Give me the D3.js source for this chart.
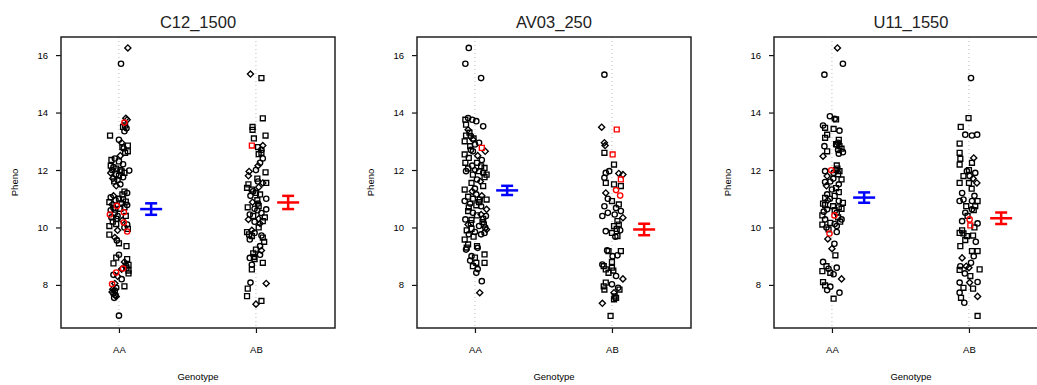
<!DOCTYPE html>
<html>
<head>
<meta charset="utf-8">
<script src="https://cdn.jsdelivr.net/npm/d3@7"></script>
<style>
  body { margin: 0; background: #fff; }
  svg { display: block; }
  text { font-family: "Liberation Sans", Arial, sans-serif; }
</style>
</head>
<body>
<div id="chart"></div>
<script>
// marker panels, genotype groups and the mean +/- SE
const markers = ['C12_1500', 'AV03_250', 'U11_1550'];
const genotypes = ['AA', 'AB'];
const yTicks = [8, 10, 12, 14, 16];
const meanPheno = [[10.64, 10.87], [11.29, 9.93], [11.04, 10.32]];
const sePheno = [[0.20, 0.23], [0.16, 0.20], [0.18, 0.20]];

// points: [pheno, jitter on genotype axis, symbol]  o circle, s square, d diamond; upper case = red
const c12AA = [[16.25,.065,'d'],[15.70,.015,'o'],[13.80,.05,'d'],[13.75,.06,'d'],[13.65,.04,'O'],[13.55,.045,'s'],[13.5,.03,'s'],[13.45,.055,'o'],[13.35,.04,'o'],[13.2,-.065,'s'],[13.05,0,'o'],[12.95,.02,'d'],[12.85,.065,'s'],[12.8,.025,'s'],[12.75,.035,'o'],[12.65,.065,'s'],[12.6,.045,'s'],[12.5,.01,'d'],[12.4,-.03,'o'],[12.35,-.055,'s'],[12.2,.03,'o'],[12.15,-.06,'s'],[12.1,-.04,'o'],[12.05,-.02,'s'],[12.0,.01,'s'],[11.98,.075,'o'],[11.95,.02,'s'],[11.9,-.06,'d'],[11.85,-.02,'o'],[11.8,0,'s'],[11.75,.03,'o'],[11.7,-.045,'d'],[11.65,-.01,'o'],[11.6,-.035,'s'],[11.5,.01,'o'],[11.45,-.02,'d'],[11.25,.04,'s'],[11.2,.06,'o'],[11.15,.025,'s'],[11.1,-.04,'d'],[11.05,-.06,'o'],[11.0,0,'s'],[10.95,-.025,'o'],[10.9,.05,'s'],[10.88,-.07,'s'],[10.85,.02,'o'],[10.8,-.05,'d'],[10.75,-.015,'O'],[10.7,.04,'s'],[10.68,-.04,'o'],[10.65,.01,'s'],[10.6,-.06,'o'],[10.53,.036,'O'],[10.5,-.03,'o'],[10.45,-.066,'O'],[10.4,.05,'s'],[10.35,-.055,'o'],[10.3,-.02,'s'],[10.25,.025,'d'],[10.2,-.045,'s'],[10.17,.035,'O'],[10.1,.06,'o'],[10.05,-.07,'s'],[10.0,.04,'o'],[9.95,.065,'s'],[9.9,-.01,'d'],[9.86,.06,'O'],[9.75,-.07,'s'],[9.65,-.03,'d'],[9.55,-.015,'o'],[9.45,0,'s'],[9.35,.055,'s'],[9.05,0,'o'],[8.95,-.02,'s'],[8.9,.06,'s'],[8.8,.04,'d'],[8.75,-.04,'s'],[8.7,.07,'s'],[8.6,.055,'s'],[8.57,.03,'O'],[8.55,.02,'d'],[8.5,.07,'s'],[8.43,-.02,'O'],[8.4,.07,'s'],[8.35,-.04,'o'],[8.3,-.01,'d'],[8.2,.02,'o'],[8.05,-.03,'d'],[8.03,-.05,'O'],[7.95,.04,'s'],[7.9,-.02,'o'],[7.8,-.03,'o'],[7.75,-.05,'d'],[7.7,-.04,'o'],[7.65,-.025,'o'],[7.6,-.02,'d'],[7.55,-.035,'o'],[6.93,0,'o'],[12.3,.0,'s'],[12.0,-.05,'o'],[11.9,.04,'s'],[10.98,.03,'s'],[10.78,.06,'o'],[10.62,-.03,'s'],[10.4,-.01,'o'],[10.12,-.02,'s'],[8.68,.05,'o'],[7.85,-.045,'d']];
const c12AB = [[15.34,-.04,'d'],[15.2,.04,'s'],[13.8,.05,'s'],[13.5,-.025,'s'],[13.4,-.025,'s'],[13.2,.07,'s'],[13.1,-.015,'s'],[12.85,-.03,'S'],[12.8,.015,'s'],[12.85,.05,'d'],[12.7,.04,'o'],[12.6,.04,'s'],[12.55,.02,'s'],[12.4,.05,'o'],[12.25,.03,'o'],[12.15,.015,'d'],[12.0,0,'o'],[11.95,-.05,'d'],[11.92,.07,'s'],[11.8,-.055,'d'],[11.7,.01,'s'],[11.6,.015,'o'],[11.55,.05,'d'],[11.55,.075,'s'],[11.5,-.055,'s'],[11.4,.02,'d'],[11.38,-.065,'s'],[11.32,-.03,'s'],[11.26,-.02,'o'],[11.2,0,'s'],[11.15,.03,'s'],[11.1,-.04,'o'],[11.0,.075,'o'],[10.95,.01,'s'],[10.88,-.025,'d'],[10.83,.015,'o'],[10.74,.02,'s'],[10.7,-.06,'s'],[10.65,-.01,'o'],[10.63,.075,'o'],[10.6,.01,'o'],[10.5,.04,'o'],[10.45,-.045,'o'],[10.4,-.02,'s'],[10.35,.065,'s'],[10.3,.02,'d'],[10.28,-.055,'d'],[10.22,.05,'s'],[10.2,-.01,'o'],[10.14,.03,'d'],[10.0,.02,'s'],[9.9,-.03,'d'],[9.84,-.065,'s'],[9.81,-.01,'o'],[9.76,-.05,'s'],[9.72,.04,'o'],[9.7,-.03,'s'],[9.65,.05,'s'],[9.58,-.045,'o'],[9.5,.06,'s'],[9.35,.03,'o'],[9.23,0,'s'],[9.2,.04,'d'],[9.1,-.02,'s'],[9.05,.03,'o'],[8.98,-.015,'s'],[8.94,-.045,'o'],[8.9,-.01,'s'],[8.77,.05,'s'],[8.7,-.03,'o'],[8.54,-.03,'s'],[8.08,-.04,'o'],[8.05,.075,'d'],[7.87,-.06,'s'],[7.61,-.065,'s'],[7.44,.04,'s'],[7.33,0,'d']];
const av03AA = [[16.25,-.045,'o'],[15.7,-.07,'o'],[15.2,.045,'o'],[13.81,-.05,'o'],[13.75,-.07,'s'],[13.75,-.02,'o'],[13.7,.01,'o'],[13.58,-.065,'s'],[13.52,.06,'o'],[13.4,-.05,'d'],[13.3,-.04,'s'],[13.2,-.065,'s'],[13.18,-.03,'o'],[13.1,-.01,'s'],[13.06,-.015,'d'],[13.0,-.075,'s'],[12.95,.03,'o'],[12.89,0,'o'],[12.83,-.035,'s'],[12.77,.05,'S'],[12.7,-.03,'o'],[12.65,.075,'d'],[12.65,-.015,'o'],[12.54,-.075,'s'],[12.5,.02,'d'],[12.42,-.045,'s'],[12.35,.05,'o'],[12.25,-.07,'s'],[12.25,.015,'s'],[12.15,-.02,'o'],[12.13,.045,'s'],[12.07,.07,'s'],[12.05,-.05,'s'],[12.0,0,'d'],[11.96,-.065,'o'],[11.96,.03,'s'],[11.9,.06,'o'],[11.84,-.015,'s'],[11.84,.085,'s'],[11.75,.07,'s'],[11.67,.015,'o'],[11.6,.04,'d'],[11.55,-.025,'s'],[11.44,.06,'s'],[11.35,0,'o'],[11.32,-.075,'s'],[11.26,-.02,'d'],[11.15,.01,'o'],[11.1,.05,'d'],[11.07,-.05,'s'],[11.0,-.015,'s'],[10.97,.035,'s'],[10.97,.085,'s'],[10.92,-.075,'o'],[10.88,.03,'s'],[10.83,-.035,'o'],[10.77,.01,'s'],[10.74,.045,'o'],[10.7,-.045,'s'],[10.63,.085,'d'],[10.57,-.05,'s'],[10.51,-.015,'o'],[10.45,.045,'d'],[10.42,.015,'s'],[10.4,.08,'o'],[10.3,.06,'s'],[10.28,-.07,'o'],[10.26,-.025,'s'],[10.19,.055,'s'],[10.15,-.03,'s'],[10.1,-.05,'d'],[10.1,.065,'s'],[10.05,.03,'o'],[10.0,.075,'o'],[9.95,-.025,'s'],[9.93,.085,'d'],[9.9,-.06,'s'],[9.84,0,'o'],[9.81,.07,'o'],[9.76,-.045,'o'],[9.76,.045,'o'],[9.68,-.01,'s'],[9.58,-.075,'s'],[9.41,-.05,'s'],[9.35,.015,'s'],[9.3,-.06,'s'],[9.29,.02,'o'],[9.23,-.065,'o'],[9.06,.07,'s'],[9.0,-.025,'o'],[8.95,0,'s'],[8.85,-.035,'o'],[8.77,.07,'s'],[8.77,.01,'s'],[8.65,-.015,'s'],[8.55,.02,'o'],[8.42,.01,'o'],[8.13,.05,'o'],[7.73,.035,'d']];
const av03AB = [[15.32,-.055,'o'],[13.49,-.075,'d'],[13.41,.035,'S'],[12.95,-.055,'d'],[12.85,-.05,'d'],[12.6,-.055,'s'],[12.54,.005,'S'],[12.19,.015,'s'],[11.96,-.02,'o'],[11.9,-.045,'o'],[11.88,.05,'d'],[11.84,.08,'d'],[11.73,-.055,'o'],[11.67,.065,'S'],[11.55,-.045,'s'],[11.5,.015,'s'],[11.44,.065,'s'],[11.3,.03,'O'],[11.2,-.045,'d'],[11.11,.06,'O'],[11.0,-.03,'o'],[10.92,0,'s'],[10.8,.05,'s'],[10.74,-.055,'o'],[10.68,.03,'o'],[10.57,.065,'o'],[10.51,-.03,'o'],[10.45,.02,'o'],[10.4,-.07,'o'],[10.34,.08,'d'],[10.22,.04,'s'],[10.1,.05,'s'],[10.05,.015,'s'],[9.95,.035,'s'],[9.9,.06,'o'],[9.87,-.045,'o'],[9.81,0,'s'],[9.7,.04,'s'],[9.68,.025,'o'],[9.2,-.035,'o'],[9.18,-.025,'s'],[9.18,.065,'s'],[9.03,.04,'o'],[9.0,.005,'o'],[8.8,0,'s'],[8.71,-.07,'o'],[8.65,-.06,'s'],[8.6,0,'s'],[8.54,-.045,'s'],[8.5,.01,'s'],[8.42,-.025,'s'],[8.31,.03,'o'],[8.21,.08,'d'],[8.08,-.045,'s'],[8.02,0,'o'],[7.95,-.06,'s'],[7.9,.045,'o'],[7.84,-.055,'s'],[7.84,.055,'s'],[7.73,.015,'d'],[7.6,.02,'s'],[7.55,.03,'s'],[7.5,.015,'s'],[7.36,-.07,'d'],[6.92,-.01,'s']];
const u11AA = [[16.25,.04,'d'],[15.7,.08,'o'],[15.32,-.055,'o'],[13.87,-.015,'o'],[13.78,.02,'o'],[13.76,.03,'s'],[13.55,-.065,'o'],[13.47,-.05,'s'],[13.43,.012,'s'],[13.37,.055,'o'],[13.23,-.035,'s'],[13.12,-.05,'s'],[13.05,.05,'s'],[12.9,.03,'s'],[12.89,.035,'s'],[12.83,-.055,'o'],[12.83,.055,'s'],[12.74,.07,'s'],[12.7,.045,'o'],[12.65,-.035,'s'],[12.62,.08,'o'],[12.57,.05,'o'],[12.48,-.065,'d'],[12.16,.035,'s'],[12.05,.04,'s'],[11.99,-.005,'O'],[11.96,-.05,'o'],[11.96,.055,'s'],[11.9,.012,'o'],[11.85,.045,'s'],[11.79,-.035,'d'],[11.7,.01,'o'],[11.67,.07,'s'],[11.6,-.012,'o'],[11.58,-.05,'o'],[11.45,-.04,'d'],[11.37,.03,'s'],[11.32,0,'o'],[11.23,.05,'s'],[11.1,.02,'s'],[11.03,-.05,'s'],[11.0,-.015,'o'],[10.95,-.03,'d'],[10.92,.05,'o'],[10.86,.08,'s'],[10.83,-.065,'s'],[10.74,.008,'s'],[10.7,.05,'s'],[10.65,.07,'s'],[10.63,-.035,'o'],[10.55,-.06,'o'],[10.51,.035,'o'],[10.42,.018,'O'],[10.42,-.07,'s'],[10.35,.045,'s'],[10.28,-.05,'o'],[10.28,.07,'o'],[10.2,.06,'s'],[10.16,-.012,'s'],[10.1,-.07,'s'],[10.05,.035,'o'],[10.0,-.04,'o'],[9.93,-.025,'s'],[9.84,.035,'o'],[9.79,-.018,'O'],[9.6,-.03,'d'],[9.43,.018,'o'],[9.26,0,'d'],[9.03,.025,'s'],[8.8,-.065,'o'],[8.65,-.04,'s'],[8.6,.035,'o'],[8.56,-.025,'o'],[8.48,-.07,'s'],[8.42,-.012,'s'],[8.37,.012,'o'],[8.21,.07,'d'],[8.1,-.065,'s'],[7.98,-.05,'s'],[7.94,-.012,'o'],[7.82,-.035,'o'],[7.73,.055,'o'],[7.52,.012,'s'],[12.95,.045,'o'],[12.0,.03,'s'],[11.5,.05,'o'],[11.15,-.035,'o'],[10.78,-.05,'s'],[10.6,.02,'s'],[10.12,.02,'o']];
const u11AB = [[15.2,.015,'o'],[13.81,-.003,'s'],[13.5,-.06,'s'],[13.23,-.027,'o'],[13.2,.022,'o'],[13.23,.06,'o'],[12.92,-.068,'s'],[12.6,-.068,'s'],[12.42,.035,'d'],[12.39,-.063,'s'],[12.25,.022,'s'],[12.19,-.068,'s'],[12.0,0,'s'],[11.96,-.015,'o'],[11.9,.046,'o'],[11.79,-.04,'s'],[11.79,.005,'o'],[11.7,.03,'d'],[11.55,.058,'d'],[11.55,0,'s'],[11.55,-.068,'s'],[11.35,.02,'s'],[11.2,-.05,'o'],[11.1,.04,'o'],[10.97,-.04,'o'],[10.92,.022,'o'],[10.92,.063,'s'],[10.92,-.068,'o'],[10.74,-.02,'s'],[10.74,.046,'s'],[10.63,.022,'o'],[10.6,.035,'s'],[10.51,-.027,'o'],[10.4,-.01,'s'],[10.28,.005,'O'],[10.22,-.05,'o'],[10.14,.063,'o'],[10.07,.01,'S'],[10.0,.04,'s'],[9.9,-.05,'s'],[9.81,-.068,'s'],[9.79,-.04,'s'],[9.72,.03,'s'],[9.7,-.015,'s'],[9.56,-.027,'s'],[9.5,.05,'o'],[9.35,-.063,'s'],[9.18,.022,'s'],[9.18,.063,'s'],[9.0,.035,'o'],[8.94,-.05,'d'],[8.77,.015,'o'],[8.65,-.063,'o'],[8.65,-.02,'d'],[8.6,0,'d'],[8.54,.078,'s'],[8.52,-.068,'s'],[8.4,-.03,'o'],[8.31,.01,'s'],[8.1,.063,'o'],[8.08,-.068,'o'],[8.08,.005,'d'],[7.9,-.04,'s'],[7.87,.03,'s'],[7.73,-.068,'o'],[7.6,.063,'d'],[7.55,-.058,'s'],[7.38,-.034,'o'],[6.92,.063,'s']];

const points = [[c12AA, c12AB], [av03AA, av03AB], [u11AA, u11AB]];

const width = 1037, height = 385;
const panelLeft = [61, 417, 774];
const boxW = 274, boxTop = 37, boxBottom = 328;

const svg = d3.select('#chart').append('svg')
  .attr('width', width)
  .attr('height', height);

const y = d3.scaleLinear().domain([6.5, 16.63]).range([boxBottom, boxTop]);
const x = d3.scaleLinear().domain([0.577, 2.577]).range([0, boxW]);

const sym = {
  o: d3.symbol().type(d3.symbolCircle).size(22)(),
  s: d3.symbol().type(d3.symbolSquare).size(24)(),
  d: d3.symbol().type(d3.symbolSquare).size(19)()
};

markers.forEach((name, p) => {
  const g = svg.append('g').attr('transform', 'translate(' + panelLeft[p] + ',0)');

  svg.append('text')
    .attr('x', panelLeft[p] + boxW / 2)
    .attr('y', 28)
    .attr('text-anchor', 'middle')
    .attr('font-size', 16.5)
    .attr('fill', '#222')
    .text(name);

  // dotted guides at each genotype
  g.selectAll('line.guide')
    .data(genotypes)
    .enter()
    .append('line')
    .attr('x1', (d, i) => x(i + 1))
    .attr('x2', (d, i) => x(i + 1))
    .attr('y1', boxTop)
    .attr('y2', boxBottom)
    .attr('stroke', '#bbb')
    .attr('stroke-width', 1)
    .attr('stroke-dasharray', '1,3');

  const yAxis = g.append('g')
    .call(d3.axisLeft(y).tickValues(yTicks).tickSize(5).tickPadding(8));
  const xAxis = g.append('g')
    .attr('transform', 'translate(0,' + boxBottom + ')')
    .call(d3.axisBottom(x).tickValues([1, 2]).tickFormat((d, i) => genotypes[i]).tickSize(5).tickPadding(13));
  [yAxis, xAxis].forEach(a => {
    a.select('.domain').remove();
    a.selectAll('line').attr('stroke', '#111').attr('stroke-width', 1.2);
    a.selectAll('text').attr('font-size', 9.5).attr('fill', '#000')
      .attr('font-family', '"Liberation Sans", Arial, sans-serif');
  });

  g.append('text')
    .attr('transform', 'translate(-46,' + ((boxTop + boxBottom) / 2) + ') rotate(-90)')
    .attr('text-anchor', 'middle')
    .attr('dy', '0.35em')
    .attr('font-size', 9.5)
    .attr('fill', '#000')
    .text('Pheno');

  g.append('text')
    .attr('x', boxW / 2)
    .attr('y', 380)
    .attr('text-anchor', 'middle')
    .attr('font-size', 9.5)
    .attr('fill', '#000')
    .text('Genotype');

  // scatter, black first then red on top
  const pts = [];
  points[p].forEach((grp, gi) => grp.forEach(d => pts.push({ gi, v: d[0], j: d[1], s: d[2] })));
  pts.sort((a, b) => (a.s === a.s.toUpperCase()) - (b.s === b.s.toUpperCase()));

  g.selectAll('path.pt')
    .data(pts)
    .enter()
    .append('path')
    .attr('class', 'pt')
    .attr('d', d => sym[d.s.toLowerCase()])
    .attr('transform', d => 'translate(' + x(d.gi + 1 + d.j) + ',' + y(d.v) + ')' +
      (d.s.toLowerCase() === 'd' ? ' rotate(45)' : ''))
    .attr('fill', 'none')
    .attr('stroke', d => d.s === d.s.toUpperCase() ? '#ff0000' : '#000')
    .attr('stroke-width', 1.35);

  // mean +/- SE bars
  const barCol = ['#0000ff', '#ff0000'];
  genotypes.forEach((gname, gi) => {
    const cx = x(gi + 1.235);
    const m = meanPheno[p][gi], se = sePheno[p][gi];
    const bar = g.append('g').attr('stroke', barCol[gi]).attr('stroke-width', 2.5);
    bar.append('line').attr('x1', cx - 11).attr('x2', cx + 11).attr('y1', y(m)).attr('y2', y(m));
    bar.append('line').attr('x1', cx).attr('x2', cx).attr('y1', y(m - se)).attr('y2', y(m + se));
    bar.append('line').attr('x1', cx - 6).attr('x2', cx + 6).attr('y1', y(m + se)).attr('y2', y(m + se));
    bar.append('line').attr('x1', cx - 6).attr('x2', cx + 6).attr('y1', y(m - se)).attr('y2', y(m - se));
  });

  g.append('rect')
    .attr('x', 0)
    .attr('y', boxTop)
    .attr('width', boxW)
    .attr('height', boxBottom - boxTop)
    .attr('fill', 'none')
    .attr('stroke', '#222')
    .attr('stroke-width', 1.5);
});
</script>
</body>
</html>
